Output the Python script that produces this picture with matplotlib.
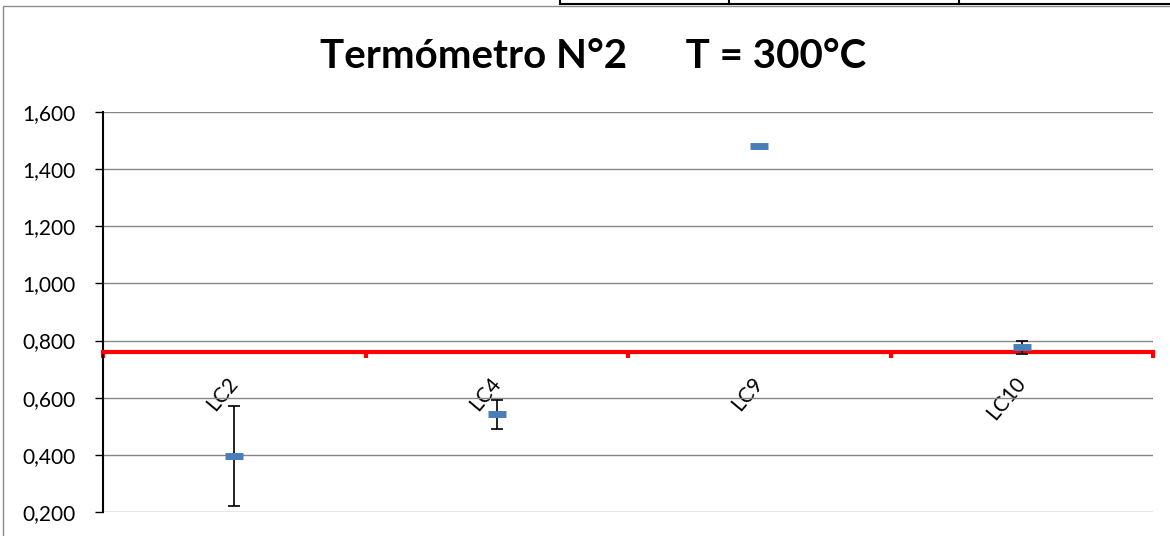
import matplotlib.pyplot as plt
from matplotlib.patches import Rectangle
from matplotlib.lines import Line2D
from matplotlib.ticker import FuncFormatter, FixedLocator

# mean reading per sensor and its spread
categories = ['LC2', 'LC4', 'LC9', 'LC10']
means = [0.397, 0.542, 1.482, 0.776]
errors = [0.175, 0.051, 0.003, 0.023]
reference = 0.76
yticks = [0.2, 0.4, 0.6, 0.8, 1.0, 1.2, 1.4, 1.6]

plt.rcParams['font.family'] = ['Lato', 'DejaVu Sans']

W, H = 1170, 536
fig = plt.figure(figsize=(W / 100, H / 100), dpi=100)
ax = fig.add_axes([103 / W, 1 - 512 / H, 1050 / W, 400 / H])

x = list(range(len(categories)))
ax.errorbar(x, means, yerr=errors, fmt='none', ecolor='black',
            elinewidth=1.2, capsize=4, capthick=1.2, zorder=3)
ax.plot(x, means, linestyle='none', marker='_', markersize=13,
        markeredgewidth=5, color='#4A7EBB', zorder=4)

ax.set_xlim(-0.5, len(categories) - 0.5)
ax.set_ylim(0.2, 1.6)
ax.set_yticks(yticks)
ax.yaxis.set_major_formatter(FuncFormatter(lambda v, p: f'{v:.3f}'.replace('.', ',')))
ax.yaxis.grid(True, color='#868686', linewidth=1)
ax.set_axisbelow(True)

# category axis crosses at the reference value
ax.spines['bottom'].set_position(('data', reference))
ax.spines['bottom'].set_color('red')
ax.spines['bottom'].set_linewidth(3)
ax.spines['top'].set_visible(False)
ax.spines['right'].set_visible(False)
ax.spines['left'].set_linewidth(1.5)

ax.set_xticks(x)
ax.set_xticklabels(categories, rotation=50, ha='right', va='center',
                   rotation_mode='anchor', fontsize=15)
ax.tick_params(axis='x', which='major', length=0, pad=20)
ax.xaxis.set_minor_locator(FixedLocator([i - 0.5 for i in range(len(categories) + 1)]))
ax.tick_params(axis='x', which='minor', length=4, width=3, color='red')
ax.tick_params(axis='y', length=6, width=1, labelsize=15, pad=14)

fig.text(593 / W, 1 - 56 / H, 'Termómetro N°2      T = 300°C',
         ha='center', va='center', fontsize=29, fontweight='bold')

# chart frame and the table edge above it
fig.add_artist(Rectangle((2.5 / W, -0.01), 1.0, 1 - 5.5 / H - (-0.01),
                         transform=fig.transFigure, fill=False,
                         edgecolor='#8c8c8c', linewidth=1))
fig.add_artist(Line2D([560 / W, 1.0], [1 - 3.5 / H] * 2, transform=fig.transFigure,
                      color='black', linewidth=1.5))
for xv in [560, 729, 959]:
    fig.add_artist(Line2D([xv / W] * 2, [1 - 3.5 / H, 1.0], transform=fig.transFigure,
                          color='black', linewidth=1.5))

fig.savefig('out.png', dpi=100)
